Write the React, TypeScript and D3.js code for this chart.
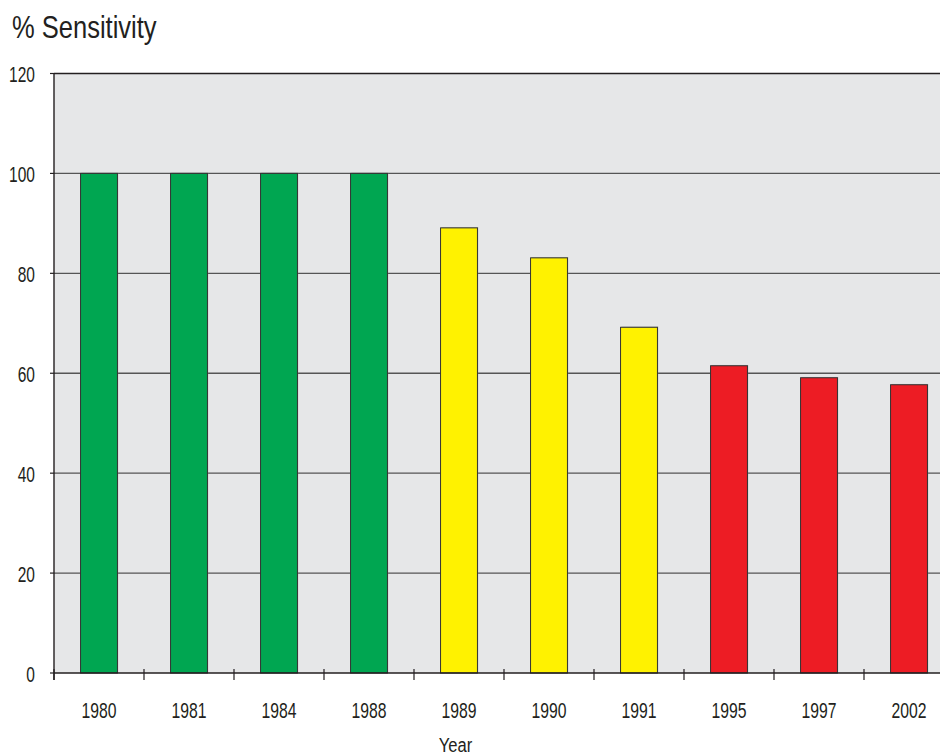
import React from "react";
import * as d3 from "d3";

const years = ["1980", "1981", "1984", "1988", "1989", "1990", "1991", "1995", "1997", "2002"];
const sensitivity = [100, 100, 100, 100, 89.1, 83.1, 69.2, 61.5, 59.1, 57.7];
const groups = ["green", "green", "green", "green", "yellow", "yellow", "yellow", "red", "red", "red"];
const yTicks = [0, 20, 40, 60, 80, 100, 120];

const colors: Record<string, string> = { green: "#00A651", yellow: "#FFF200", red: "#ED1C24" };

const W = 940, H = 755;
const left = 54, top = 73.5, bottom = 673;

export default function App() {
  const x = d3.scaleBand<string>().domain(years).range([left, left + 900]).paddingInner(0.59).paddingOuter(0.295);
  const y = d3.scaleLinear().domain([0, 120]).range([bottom, top]);
  const font = "'Liberation Sans', Arial, Helvetica, sans-serif";
  const bandEdges = years.map((_, i) => left + i * x.step());
  return (
    <svg width={W} height={H} style={{ position: "absolute", left: 0, top: 0, display: "block" }}>
      <rect x={0} y={0} width={W} height={H} fill="#fff" />
      <rect x={left} y={top} width={W - left} height={bottom - top} fill="#E6E7E8" />
      {yTicks.filter(t => t > 0).map(t => (
        <line key={t} x1={left} x2={W} y1={y(t)} y2={y(t)} stroke={t === 120 ? "#231F20" : "#555"} strokeWidth={t === 120 ? 1.6 : 1.3} />
      ))}
      {years.map((yr, i) => (
        <g key={yr}>
          <rect x={(x(yr) as number) + 0.8} y={y(sensitivity[i]) - 0.8} width={x.bandwidth()} height={bottom - y(sensitivity[i]) + 0.8} fill="#999" opacity={0.6} />
          <rect x={x(yr)} y={y(sensitivity[i])} width={x.bandwidth()} height={bottom - y(sensitivity[i])} fill={colors[groups[i]]} stroke="#333" strokeWidth={1} />
        </g>
      ))}
      <line x1={left} x2={left} y1={top} y2={bottom + 7} stroke="#231F20" strokeWidth={1.4} />
      <line x1={left} x2={W} y1={bottom} y2={bottom} stroke="#231F20" strokeWidth={1.4} />
      {bandEdges.map((bx, i) => (
        <line key={i} x1={bx} x2={bx} y1={bottom - 4} y2={bottom + 7} stroke="#231F20" strokeWidth={1.2} />
      ))}
      {yTicks.map(t => (
        <g key={t}>
          <line x1={left - 4} x2={left} y1={y(t)} y2={y(t)} stroke="#231F20" strokeWidth={1.2} />
          <g transform={`translate(35,${y(t) + 8.5}) scale(0.69,1)`}>
            <text x={0} y={0} textAnchor="end" fontFamily={font} fontSize={22.5} fill="#231F20">{t}</text>
          </g>
        </g>
      ))}
      {years.map(yr => (
        <g key={yr} transform={`translate(${(x(yr) as number) + x.bandwidth() / 2},717.5) scale(0.70,1)`}>
          <text x={0} y={0} textAnchor="middle" fontFamily={font} fontSize={22.5} fill="#231F20">{yr}</text>
        </g>
      ))}
      <g transform={`translate(455.5,751.5) scale(0.79,1)`}>
        <text x={0} y={0} textAnchor="middle" fontFamily={font} fontSize={21} fill="#231F20">Year</text>
      </g>
      <g transform={`translate(12,38) scale(0.81,1)`}>
        <text x={0} y={0} fontFamily={font} fontSize={31.5} fill="#231F20">% Sensitivity</text>
      </g>
    </svg>
  );
}
